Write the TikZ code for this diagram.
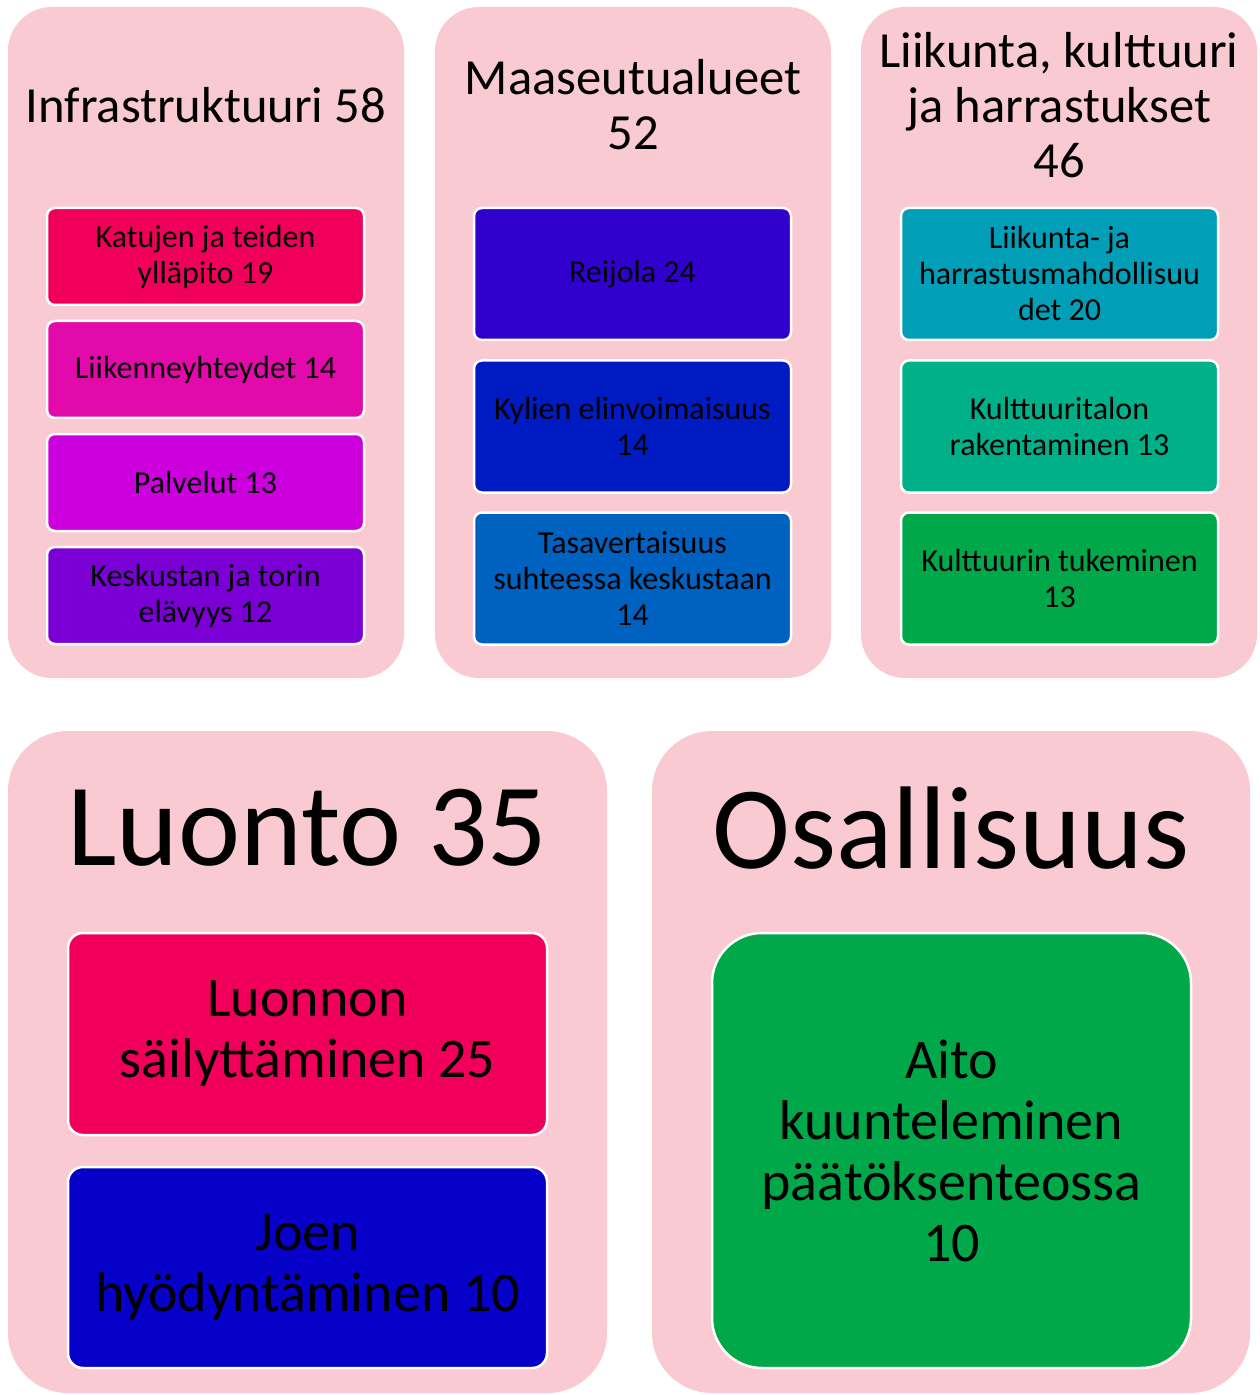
\documentclass[tikz,border=0pt]{standalone}
\usepackage{fontspec}
\setmainfont{Carlito}
\usepackage{tikz}
\usetikzlibrary{calc}
\definecolor{panelpink}{HTML}{F9CAD2}
\definecolor{cKatu}{HTML}{F0005A}
\definecolor{cLiik}{HTML}{E20AAA}
\definecolor{cPalv}{HTML}{CC00DD}
\definecolor{cKesk}{HTML}{7B00D6}
\definecolor{cReij}{HTML}{3000CC}
\definecolor{cKyli}{HTML}{001BC2}
\definecolor{cTasa}{HTML}{0062C0}
\definecolor{cHarr}{HTML}{009FB7}
\definecolor{cTalo}{HTML}{00B089}
\definecolor{cTuki}{HTML}{00A84A}
\definecolor{cJoki}{HTML}{0600C8}
\def\panelnode{\node[panel]}
\def\itemnode{\node[itembox]}

\begin{document}
\begin{tikzpicture}[x=0.5pt,y=-0.5pt,
  panel/.style={rectangle,fill=panelpink,inner sep=0pt,outer sep=0pt},
  itembox/.style={rectangle,draw=white,line width=1.25pt,rounded corners=4pt,
    inner sep=0pt,outer sep=0pt,minimum width=158.5pt,align=center,
    font=\fontsize{16}{18}\selectfont},
  bigitem/.style={itembox,minimum width=239.5pt,rounded corners=7.5pt,
    font=\fontsize{28}{30.5}\selectfont},
  title/.style={align=center,font=\fontsize{25.3}{27.5}\selectfont},
  bigtitle/.style={font=\fontsize{58.8}{62}\selectfont}]
\useasboundingbox (0,0) rectangle (1259,1395);
\panelnode[rounded corners=22pt,minimum width=198pt,minimum height=335.5pt] (infra) at (206,342.5) {};
\panelnode[rounded corners=22pt,minimum width=198pt,minimum height=335.5pt] (maaseutu) at (633,342.5) {};
\panelnode[rounded corners=22pt,minimum width=198pt,minimum height=335.5pt] (liikunta) at (1059,342.5) {};
\panelnode[rounded corners=30pt,minimum width=299.5pt,minimum height=331pt] (luonto) at (307.5,1062) {};
\panelnode[rounded corners=30pt,minimum width=299pt,minimum height=331pt] (osallisuus) at (951,1062) {};
\node[title] (infratitle) at (206,105) {Infrastruktuuri 58};
\node[title] (maatitle) at (633,105) {Maaseutualueet\\52};
\node[title] (liiktitle) at (1059,105) {Liikunta, kulttuuri\\ja harrastukset\\46};
\node[bigtitle] (luontotitle) at (307.5,828) {Luonto 35};
\node[bigtitle] (osaltitle) at (951,828) {Osallisuus};
\itemnode[fill=cKatu,minimum height=48.5pt] (katu) at (205.5,256.5) {Katujen ja teiden\\ylläpito 19};
\itemnode[fill=cLiik,minimum height=48.5pt] (liikenne) at (205.5,369.5) {Liikenneyhteydet 14};
\itemnode[fill=cPalv,minimum height=48.5pt] (palvelut) at (205.5,482.5) {Palvelut 13};
\itemnode[fill=cKesk,minimum height=48.5pt] (keskusta) at (205.5,595.5) {Keskustan ja torin\\elävyys 12};
\itemnode[fill=cReij,minimum height=66pt] (reijola) at (632.5,274) {Reijola 24};
\itemnode[fill=cKyli,minimum height=66pt] (kylat) at (632.5,426.5) {Kylien elinvoimaisuus\\14};
\itemnode[fill=cTasa,minimum height=66pt] (tasa) at (632.5,578.5) {Tasavertaisuus\\suhteessa keskustaan\\14};
\itemnode[fill=cHarr,minimum height=66pt] (harrastus) at (1059.5,274) {Liikunta- ja\\harrastusmahdollisuu\\det 20};
\itemnode[fill=cTalo,minimum height=66pt] (talo) at (1059.5,426.5) {Kulttuuritalon\\rakentaminen 13};
\itemnode[fill=cTuki,minimum height=66pt] (tuki) at (1059.5,578.5) {Kulttuurin tukeminen\\13};
\node[bigitem,fill=cKatu,minimum height=101pt] (sailytys) at (307.5,1034) {Luonnon\\säilyttäminen 25};
\node[bigitem,fill=cJoki,minimum height=100.5pt] (joki) at (307.5,1267.5) {Joen\\hyödyntäminen 10};
\node[bigitem,fill=cTuki,rounded corners=25pt,minimum height=217.5pt] (aito) at (951.5,1150.5) {Aito\\kuunteleminen\\päätöksenteossa\\10};
\end{tikzpicture}
\end{document}
